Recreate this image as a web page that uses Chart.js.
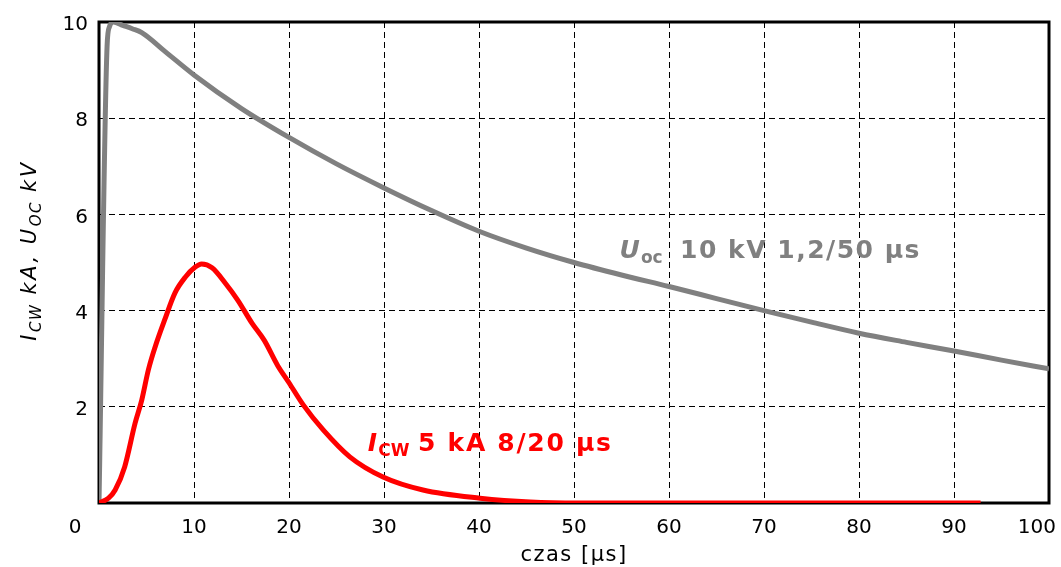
<!DOCTYPE html>
<html>
<head>
<meta charset="utf-8">
<script src="https://cdn.jsdelivr.net/npm/chart.js@4/dist/chart.umd.min.js"></script>
<style>
  body { margin: 0; background: #fff; }
  #wrap { width: 1061px; height: 567px; }
</style>
</head>
<body>
<div id="wrap"><canvas id="chart" width="1061" height="567"></canvas></div>
<script>
// napiecie Uoc 1,2/50 us (kV)
const timeU = [0, 0.85, 1.1, 1.5, 2.5, 3.5, 4.5, 7, 10, 15, 20, 25, 30, 35, 40, 45, 50, 55, 60, 65, 70, 75, 80, 85, 90, 95, 100];
const valuesU = [0, 9.5, 9.9, 10.0, 9.93, 9.86, 9.78, 9.38, 8.9, 8.2, 7.6, 7.05, 6.55, 6.08, 5.65, 5.3, 5.0, 4.74, 4.5, 4.25, 4.0, 3.76, 3.53, 3.34, 3.16, 2.97, 2.79];

// prad Icw 8/20 us (kA)
const timeI = [0, 1, 1.7, 2.7, 3.8, 4.5, 5.2, 5.9, 6.9, 8.0, 9.1, 10.1, 10.8, 11.9, 13.3, 14.6, 16.1, 17.4, 18.8, 20, 21.5, 23.6, 26.4, 29.9, 34.1, 40.1, 45.4, 50.5, 60, 70, 80, 92.8];
const valuesI = [0, 0.1, 0.27, 0.75, 1.66, 2.14, 2.77, 3.24, 3.8, 4.37, 4.7, 4.9, 4.97, 4.89, 4.57, 4.22, 3.74, 3.38, 2.86, 2.5, 2.04, 1.52, 0.96, 0.54, 0.27, 0.1, 0.02, 0, 0, 0, 0, 0];

const xMin = 0, xMax = 100, xStep = 10;
const yMin = 0, yMax = 10, yStep = 2;

const FONT = '"DejaVu Sans", Verdana, sans-serif';

// rysuje tekst z indeksami dolnymi, kawalek po kawalku
function drawParts(ctx, x, y, parts, color) {
    ctx.fillStyle = color;
    ctx.textBaseline = 'alphabetic';
    ctx.textAlign = 'left';
    parts.forEach(p => {
        ctx.font = p.font;
        ctx.letterSpacing = (p.ls || 0) + 'px';
        ctx.fillText(p.t, x, y + (p.dy || 0));
        x += ctx.measureText(p.t).width;
    });
    ctx.letterSpacing = '0px';
}

function partsWidth(ctx, parts) {
    let w = 0;
    parts.forEach(p => {
        ctx.font = p.font;
        ctx.letterSpacing = (p.ls || 0) + 'px';
        w += ctx.measureText(p.t).width;
    });
    ctx.letterSpacing = '0px';
    return w;
}

const extras = {
    id: 'extras',
    beforeDatasetsDraw(chart) {
        const {ctx, chartArea: a} = chart;
        ctx.save();
        ctx.strokeStyle = '#000';
        ctx.lineWidth = 3;
        ctx.strokeRect(a.left, a.top, a.right - a.left, a.bottom - a.top);
        ctx.restore();
    },
    afterDraw(chart) {
        const {ctx, chartArea: a} = chart;
        const xs = chart.scales.x, ys = chart.scales.y;
        ctx.save();

        // wspolne "0" w rogu i "100" dosuniete do krawedzi
        ctx.font = '20px ' + FONT;
        ctx.fillStyle = '#000';
        ctx.textAlign = 'center';
        ctx.textBaseline = 'alphabetic';
        ctx.fillText('0', a.left - 24, 533);
        ctx.textAlign = 'right';
        ctx.fillText(String(xMax), chart.width - 5, 533);
        ctx.textAlign = 'center';

        // tytul osi x
        ctx.font = '21px ' + FONT;
        ctx.letterSpacing = '1.5px';
        ctx.fillText('czas [µs]', (a.left + a.right) / 2, 561);
        ctx.letterSpacing = '0px';

        // tytul osi y (obrocony)
        const it = 'italic 21px ' + FONT, its = 'italic 15px ' + FONT;
        const yParts = [
            {t: 'I', font: it, ls: 2.5},
            {t: 'CW', font: its, dy: 5, ls: 1.5},
            {t: ' kA, ', font: it, ls: 2.5},
            {t: 'U', font: it, ls: 2.5},
            {t: 'OC', font: its, dy: 5, ls: 1.5},
            {t: ' kV', font: it, ls: 2.5}
        ];
        const yw = partsWidth(ctx, yParts);
        ctx.save();
        ctx.translate(36, (a.top + a.bottom) / 2 - 12);
        ctx.rotate(-Math.PI / 2);
        drawParts(ctx, -yw / 2, 0, yParts, '#000');
        ctx.restore();

        // opisy krzywych
        const bi = 'bold italic 25px ' + FONT, bs = 'bold 17px ' + FONT, b = 'bold 25px ' + FONT;
        drawParts(ctx, xs.getPixelForValue(54.8), ys.getPixelForValue(5.09), [
            {t: 'U', font: bi, ls: 1},
            {t: 'oc', font: bs, dy: 5},
            {t: '  ', font: b},
            {t: '10 kV 1,2/50 µs', font: b, ls: 1.5}
        ], '#808080');
        drawParts(ctx, xs.getPixelForValue(28.3), ys.getPixelForValue(1.08), [
            {t: 'I', font: bi, ls: 1},
            {t: 'CW', font: bs, dy: 5},
            {t: ' ', font: b},
            {t: '5 kA 8/20 µs', font: b, ls: 1.7}
        ], '#ff0000');

        ctx.restore();
    }
};

const chart = new Chart(document.getElementById('chart'), {
    type: 'line',
    data: {
        datasets: [
            {
                label: 'Icw',
                data: timeI.map((t, i) => ({x: t, y: valuesI[i]})),
                borderColor: '#ff0000',
                borderWidth: 5,
                pointRadius: 0,
                cubicInterpolationMode: 'monotone',
                fill: false
            },
            {
                label: 'Uoc',
                data: timeU.map((t, i) => ({x: t, y: valuesU[i]})),
                borderColor: '#808080',
                borderWidth: 5,
                pointRadius: 0,
                cubicInterpolationMode: 'monotone',
                borderJoinStyle: 'round',
                fill: false
            }
        ]
    },
    options: {
        responsive: false,
        animation: false,
        devicePixelRatio: 1,
        layout: { padding: { top: 22, right: 12, left: 0, bottom: 0 } },
        plugins: { legend: { display: false }, tooltip: { enabled: false } },
        scales: {
            x: {
                type: 'linear',
                min: xMin, max: xMax,
                afterFit: s => { s.height = 64; s.paddingLeft = 0; s.paddingRight = 0; },
                ticks: {
                    stepSize: xStep,
                    maxRotation: 0,
                    padding: 13,
                    color: '#000',
                    font: { family: FONT, size: 20 },
                    callback: v => (v === xMin || v === xMax) ? '' : v
                },
                grid: { color: '#000', lineWidth: 1, drawTicks: false },
                border: { display: false, dash: [6, 4] }
            },
            y: {
                min: yMin, max: yMax,
                afterFit: s => { s.width = 99; s.paddingTop = 0; s.paddingBottom = 0; },
                ticks: {
                    stepSize: yStep,
                    padding: 11,
                    labelOffset: 3,
                    color: '#000',
                    font: { family: FONT, size: 20 },
                    callback: v => v === 0 ? '' : v
                },
                grid: { color: '#000', lineWidth: 1, drawTicks: false },
                border: { display: false, dash: [6, 4] }
            }
        }
    },
    plugins: [extras]
});
</script>
</body>
</html>
